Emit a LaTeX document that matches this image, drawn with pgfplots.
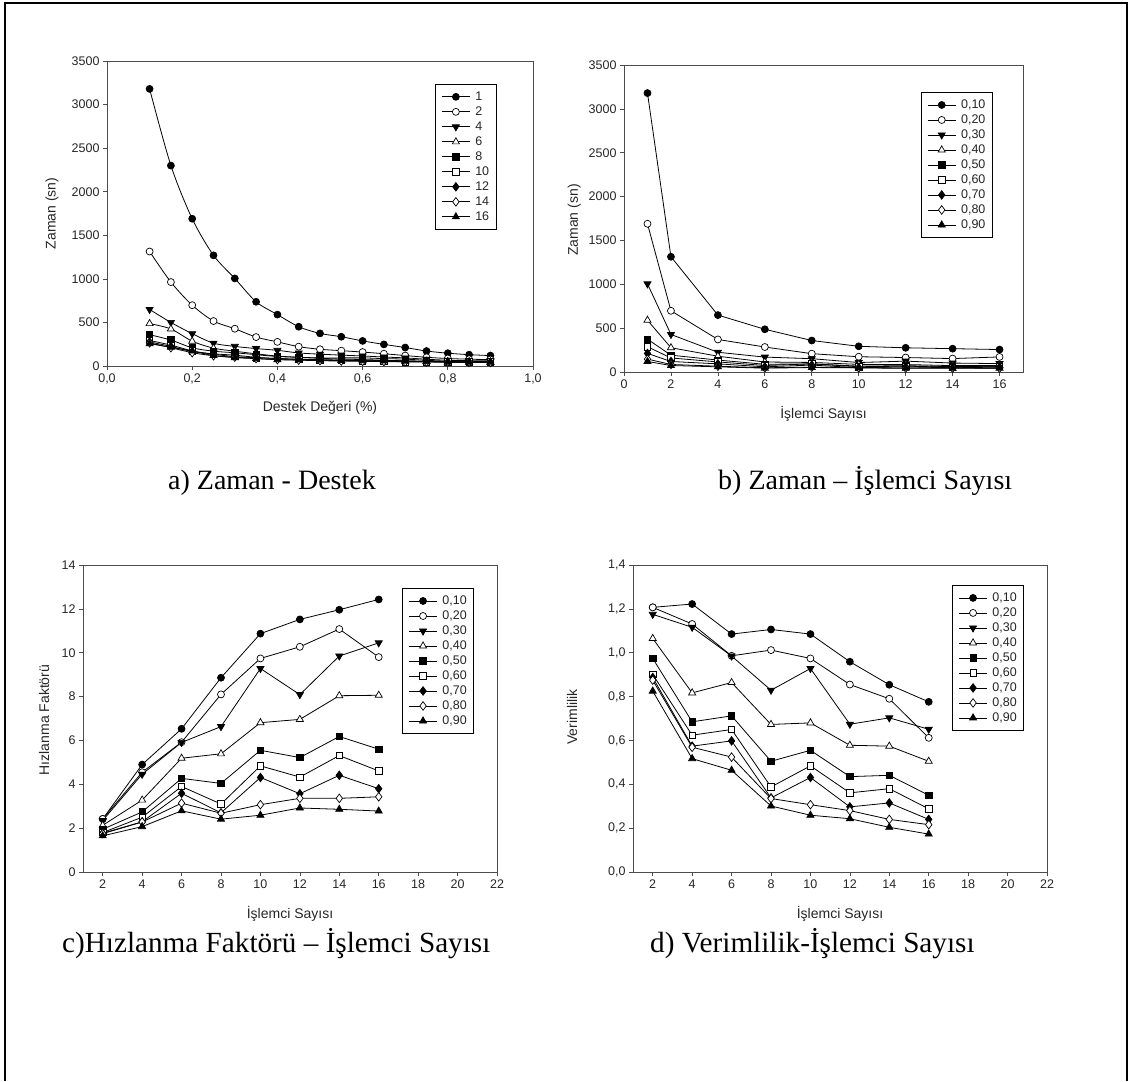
\documentclass[border=0pt]{standalone}
\usepackage{pgfplots}
\pgfplotsset{compat=1.18}
\usepackage{pgfplotstable}
\usepackage{fontspec}
\setmainfont{Liberation Sans}
\newfontfamily\capfont{Liberation Serif}

% Zaman (sn) vs destek degeri, one column per processor count
\pgfplotstableread{
s    p1   p2   p4  p6  p8  p10 p12 p14 p16
0.10 3180 1314 649 487 359 293 276 266 256
0.15 2300 963  500 425 298 240 225 210 215
0.20 1690 698  371 285 209 174 165 153 172
0.25 1270 516  262 205 170 135 140 118 120
0.30 1005 428  225 170 152 108 124 102 96
0.35 737  332  200 140 130 95  100 86  85
0.40 590  277  180 114 109 87  85  73  73
0.45 451  222  150 100 100 76  78  67  70
0.50 374  192  136 88  93  67  72  61  67
0.55 336  176  125 80  93  63  69  57  64
0.60 288  160  115 74  93  60  67  54  62
0.65 248  141  103 66  85  54  63  51  59
0.70 212  120  93  59  79  49  59  48  56
0.75 172  100  78  52  65  49  52  46  50
0.80 147  86   66  48  56  49  45  45  44
0.85 130  78   62  46  53  48  43  44  44
0.90 120  74   59  44  51  47  42  43  44
}\tabA

% Zaman (sn) vs islemci sayisi, one column per support value
\pgfplotstableread{
P  s10  s20  s30  s40 s50 s60 s70 s80 s90
1  3180 1690 1005 590 374 288 212 147 120
2  1314 698  428  277 192 160 120 86  74
4  649  371  225  180 136 115 93  66  59
6  487  285  170  114 88  74  59  48  44
8  359  209  152  109 93  93  79  56  51
10 293  174  108  87  67  60  49  49  47
12 276  165  124  85  72  67  59  45  42
14 266  153  102  73  61  54  48  45  43
16 256  172  96   73  67  62  56  44  44
}\tabB

% Hizlanma faktoru
\pgfplotstableread{
P  s10   s20   s30   s40  s50  s60  s70  s80  s90
2  2.42  2.42  2.35  2.13 1.95 1.80 1.77 1.75 1.65
4  4.90  4.55  4.46  3.28 2.74 2.50 2.29 2.28 2.07
6  6.53  5.92  5.91  5.19 4.27 3.90 3.59 3.14 2.79
8  8.86  8.10  6.63  5.39 4.04 3.10 2.70 2.68 2.41
10 10.87 9.74  9.28  6.81 5.55 4.84 4.31 3.07 2.59
12 11.52 10.27 8.09  6.96 5.22 4.33 3.57 3.36 2.92
14 11.96 11.08 9.85  8.04 6.18 5.31 4.41 3.36 2.86
16 12.43 9.80  10.45 8.06 5.60 4.61 3.80 3.43 2.78
}\tabC

% Verimlilik
\pgfplotstableread{
P  s10   s20   s30   s40   s50   s60   s70   s80   s90
2  1.207 1.207 1.175 1.065 0.974 0.901 0.887 0.875 0.825
4  1.222 1.131 1.116 0.817 0.685 0.624 0.574 0.569 0.517
6  1.085 0.986 0.985 0.864 0.712 0.650 0.598 0.524 0.464
8  1.106 1.012 0.829 0.673 0.505 0.388 0.338 0.335 0.301
10 1.085 0.974 0.928 0.680 0.555 0.484 0.431 0.307 0.259
12 0.959 0.855 0.674 0.578 0.435 0.361 0.297 0.280 0.243
14 0.854 0.790 0.703 0.574 0.441 0.380 0.315 0.240 0.204
16 0.776 0.612 0.651 0.505 0.350 0.288 0.240 0.216 0.173
}\tabD

\pgfplotscreateplotcyclelist{sp}{
{black, mark=*, mark options={fill=black, line width=0.7pt, mark size=3.5pt}},
{black, mark=*, mark options={fill=white, line width=0.7pt, mark size=3.5pt}},
{black, mark=triangle*, mark options={fill=black, line width=0.7pt, rotate=180, mark size=4.1pt}},
{black, mark=triangle*, mark options={fill=white, line width=0.7pt, mark size=4.1pt}},
{black, mark=square*, mark options={fill=black, line width=0.7pt, mark size=3.2pt}},
{black, mark=square*, mark options={fill=white, line width=0.7pt, mark size=3.2pt}},
{black, mark=diamond*, mark options={fill=black, line width=0.7pt, mark size=4.3pt}},
{black, mark=diamond*, mark options={fill=white, line width=0.7pt, mark size=4.3pt}},
{black, mark=triangle*, mark options={fill=black, line width=0.7pt, mark size=4.1pt}},
}

\pgfplotsset{
  panel/.style={
    scale only axis,
    axis line style={black!70, line width=0.8pt},
    tick style={black!70, line width=0.7pt},
    tick align=outside, tick pos=left, major tick length=4pt,
    tick label style={font=\fontsize{12.5}{13}\selectfont, text=black!85},
    label style={font=\fontsize{14}{15}\selectfont, text=black!85},
    /pgf/number format/assume math mode=true,
    scaled ticks=false,
    cycle list name=sp,
    every axis plot/.append style={line width=0.8pt},
    legend cell align=left,
    legend image code/.code={
      \draw[mark repeat=2, mark phase=2] plot coordinates {(0pt,0pt) (14pt,0pt) (28pt,0pt)};},
    legend style={draw=black, line width=0.9pt, anchor=north west,
      font=\fontsize{12.5}{13}\selectfont, text=black!85,
      inner xsep=6pt, inner ysep=6pt, row sep=2pt,
      /tikz/every odd column/.append style={column sep=4pt},
      nodes={inner sep=1pt, text height=9pt, text depth=2pt}},
    x label style={at={(axis description cs:0.5,-0.137)}, anchor=center},
  },
  commax/.style={xticklabel style={/pgf/number format/.cd, fixed, fixed zerofill, precision=1, use comma}},
  commay/.style={yticklabel style={/pgf/number format/.cd, fixed, fixed zerofill, precision=1, use comma}},
}

\begin{document}
\begin{tikzpicture}
\path[use as bounding box] (0pt,0pt) rectangle (1131pt,-1081pt);
\draw[line width=2pt] (5pt,-1081pt) -- (5pt,-3pt) -- (1127pt,-3pt) -- (1127pt,-1081pt);

% a) Zaman - Destek
\begin{axis}[panel, commax, at={(107pt,-366pt)}, anchor=south west,
  width=426pt, height=305pt,
  xmin=0, xmax=1, ymin=0, ymax=3500,
  xtick={0,0.2,0.4,0.6,0.8,1}, ytick={0,500,...,3500},
  yticklabel style={/pgf/number format/1000 sep={}},
  xlabel={Destek Değeri (\%)}, ylabel={Zaman (sn)},
  y label style={at={(axis description cs:-0.129,0.5)}, anchor=center},
  legend style={at={(axis description cs:0.77,0.925)}}]
\addplot+[smooth] table[x=s,y=p1]{\tabA}; \addlegendentry{1}
\addplot+[smooth] table[x=s,y=p2]{\tabA}; \addlegendentry{2}
\addplot+[smooth] table[x=s,y=p4]{\tabA}; \addlegendentry{4}
\addplot+[smooth] table[x=s,y=p6]{\tabA}; \addlegendentry{6}
\addplot+[smooth] table[x=s,y=p8]{\tabA}; \addlegendentry{8}
\addplot+[smooth] table[x=s,y=p10]{\tabA}; \addlegendentry{10}
\addplot+[smooth] table[x=s,y=p12]{\tabA}; \addlegendentry{12}
\addplot+[smooth] table[x=s,y=p14]{\tabA}; \addlegendentry{14}
\addplot+[smooth] table[x=s,y=p16]{\tabA}; \addlegendentry{16}
\end{axis}

% b) Zaman - Islemci Sayisi
\begin{axis}[panel, at={(624pt,-372pt)}, anchor=south west,
  width=399pt, height=307pt,
  xmin=0, xmax=17, ymin=0, ymax=3500,
  xtick={0,2,...,16}, ytick={0,500,...,3500},
  yticklabel style={/pgf/number format/1000 sep={}},
  xlabel={İşlemci Sayısı}, ylabel={Zaman (sn)},
  y label style={at={(axis description cs:-0.125,0.495)}, anchor=center},
  legend style={at={(axis description cs:0.744,0.912)}}]
\addplot+ table[x=P,y=s10]{\tabB}; \addlegendentry{0,10}
\addplot+ table[x=P,y=s20]{\tabB}; \addlegendentry{0,20}
\addplot+ table[x=P,y=s30]{\tabB}; \addlegendentry{0,30}
\addplot+ table[x=P,y=s40]{\tabB}; \addlegendentry{0,40}
\addplot+ table[x=P,y=s50]{\tabB}; \addlegendentry{0,50}
\addplot+ table[x=P,y=s60]{\tabB}; \addlegendentry{0,60}
\addplot+ table[x=P,y=s70]{\tabB}; \addlegendentry{0,70}
\addplot+ table[x=P,y=s80]{\tabB}; \addlegendentry{0,80}
\addplot+ table[x=P,y=s90]{\tabB}; \addlegendentry{0,90}
\end{axis}

% c) Hizlanma Faktoru - Islemci Sayisi
\begin{axis}[panel, at={(83pt,-872pt)}, anchor=south west,
  width=414pt, height=307pt,
  xmin=1, xmax=22, ymin=0, ymax=14,
  xtick={2,4,...,22}, ytick={0,2,...,14},
  xlabel={İşlemci Sayısı}, ylabel={Hızlanma Faktörü},
  y label style={at={(axis description cs:-0.094,0.495)}, anchor=center},
  legend style={at={(axis description cs:0.771,0.925)}}]
\addplot+ table[x=P,y=s10]{\tabC}; \addlegendentry{0,10}
\addplot+ table[x=P,y=s20]{\tabC}; \addlegendentry{0,20}
\addplot+ table[x=P,y=s30]{\tabC}; \addlegendentry{0,30}
\addplot+ table[x=P,y=s40]{\tabC}; \addlegendentry{0,40}
\addplot+ table[x=P,y=s50]{\tabC}; \addlegendentry{0,50}
\addplot+ table[x=P,y=s60]{\tabC}; \addlegendentry{0,60}
\addplot+ table[x=P,y=s70]{\tabC}; \addlegendentry{0,70}
\addplot+ table[x=P,y=s80]{\tabC}; \addlegendentry{0,80}
\addplot+ table[x=P,y=s90]{\tabC}; \addlegendentry{0,90}
\end{axis}

% d) Verimlilik - Islemci Sayisi
\begin{axis}[panel, commay, at={(633pt,-872pt)}, anchor=south west,
  width=414pt, height=307pt,
  xmin=1, xmax=22, ymin=0, ymax=1.4,
  xtick={2,4,...,22}, ytick={0,0.2,0.4,0.6,0.8,1,1.2,1.4},
  xlabel={İşlemci Sayısı}, ylabel={Verimlilik},
  y label style={at={(axis description cs:-0.147,0.505)}, anchor=center},
  legend style={at={(axis description cs:0.771,0.935)}}]
\addplot+ table[x=P,y=s10]{\tabD}; \addlegendentry{0,10}
\addplot+ table[x=P,y=s20]{\tabD}; \addlegendentry{0,20}
\addplot+ table[x=P,y=s30]{\tabD}; \addlegendentry{0,30}
\addplot+ table[x=P,y=s40]{\tabD}; \addlegendentry{0,40}
\addplot+ table[x=P,y=s50]{\tabD}; \addlegendentry{0,50}
\addplot+ table[x=P,y=s60]{\tabD}; \addlegendentry{0,60}
\addplot+ table[x=P,y=s70]{\tabD}; \addlegendentry{0,70}
\addplot+ table[x=P,y=s80]{\tabD}; \addlegendentry{0,80}
\addplot+ table[x=P,y=s90]{\tabD}; \addlegendentry{0,90}
\end{axis}

% panel captions
\begin{scope}[every node/.style={anchor=base west, inner sep=0pt}]
\node[font=\capfont\fontsize{28}{30}\selectfont] at (168pt,-489pt) {a) Zaman - Destek};
\node[font=\capfont\fontsize{28}{30}\selectfont] at (718pt,-489pt) {b) Zaman – İşlemci Sayısı};
\node[font=\capfont\fontsize{29.2}{31}\selectfont] at (62pt,-952pt) {c)Hızlanma Faktörü – İşlemci Sayısı};
\node[font=\capfont\fontsize{29.2}{31}\selectfont] at (650pt,-952pt) {d) Verimlilik-İşlemci Sayısı};
\end{scope}
\end{tikzpicture}
\end{document}
